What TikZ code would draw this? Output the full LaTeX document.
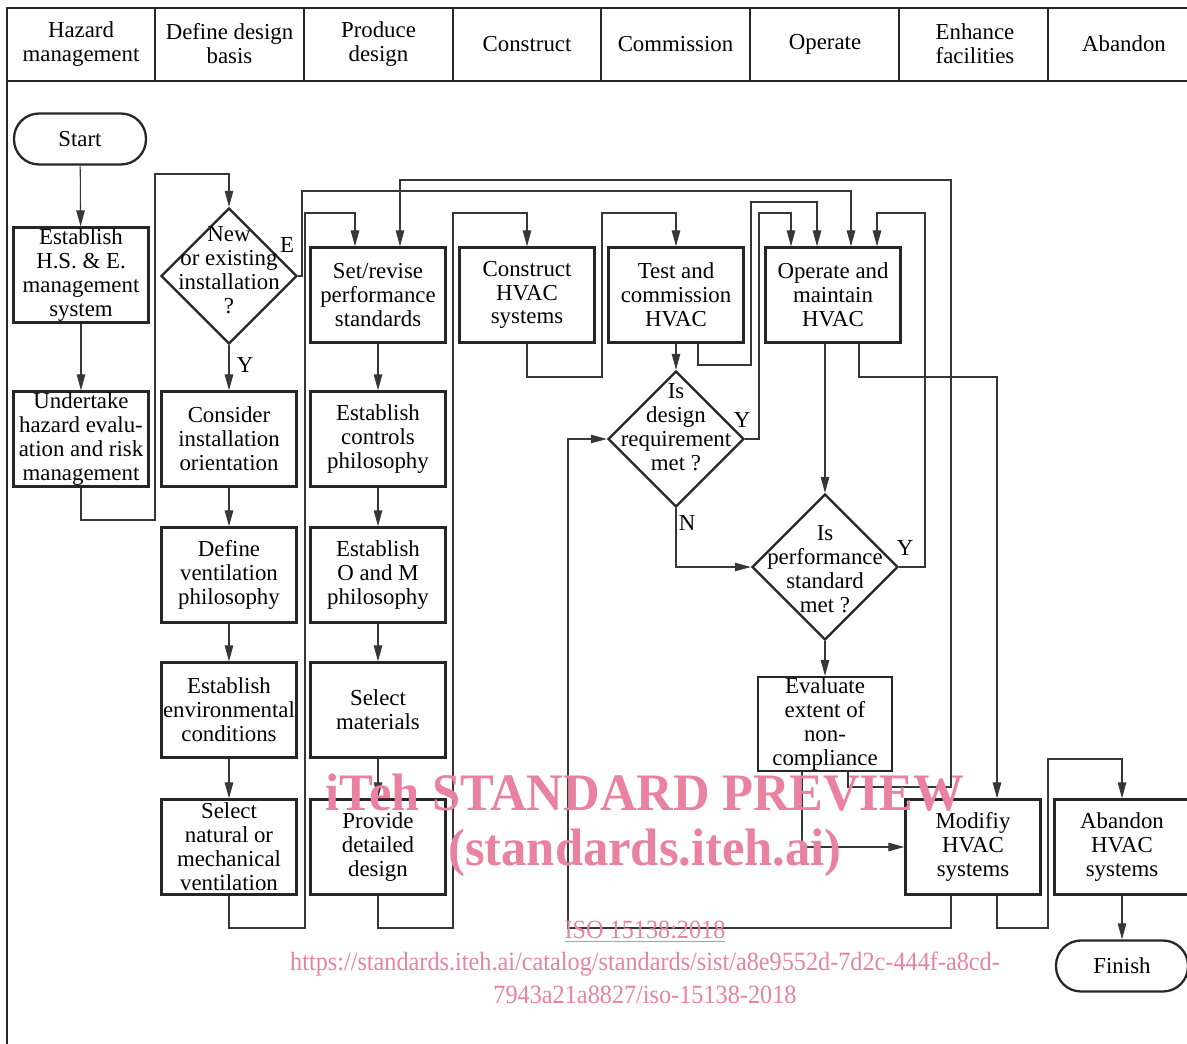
\documentclass[tikz,border=0pt]{standalone}
\usepackage{fontspec}
\setmainfont{Liberation Serif}
\usetikzlibrary{shapes.geometric, arrows.meta}
\newfontfamily\wmfont{Liberation Serif}
\definecolor{wmpink}{RGB}{232,130,160}
\definecolor{wirec}{RGB}{55,55,55}

\begin{document}
\begin{tikzpicture}[
    x=0.02cm, y=-0.02cm,
    font=\fontsize{13}{13.6}\selectfont,
    frame/.style={draw=black!85, line width=1.1pt},
    box/.style={draw=black!85, line width=1.3pt, minimum width=2.7cm, minimum height=1.9cm, inner sep=0pt, align=center},
    pill/.style={draw=black!85, line width=1.3pt, rounded corners=0.5cm, minimum width=2.64cm, minimum height=1.02cm, inner sep=0pt},
    dia/.style={draw=black!85, diamond, line width=1.3pt, minimum width=2.72cm, minimum height=2.72cm, inner sep=0pt},
    dtext/.style={align=center, inner sep=0pt},
    head/.style={align=center, inner sep=0pt},
    yn/.style={inner sep=0pt},
    wire/.style={draw=wirec, line width=0.6pt},
    link/.style={wire, -{Triangle[length=0.32cm, width=0.17cm]}},
    wmark/.style={text=wmpink, inner sep=0pt, font=\wmfont}
]
  \useasboundingbox (0,0) rectangle (1187,1044);
  % --- phase header and frame ------------------------------------------
  \draw[frame] (1200,8) -- (7,8) -- (7,1050);
  \draw[frame] (7,81) -- (1200,81);
  \foreach \x in {155,304,453,601,750,899,1048} { \draw[frame] (\x,8) -- (\x,81); }
  \foreach \cx/\nm/\txt in {81/haz/{Hazard\\management}, 229.5/dbasis/{Define design\\basis},
      378.5/pdes/{Produce\\design}, 527/cons/Construct, 675.5/comm/Commission,
      825/oper/Operate, 975/enh/{Enhance\\facilities}, 1124/aband/Abandon}
    \node[head] (h-\nm) at (\cx,44) {\txt};

  % --- hazard management ------------------------------------------------
  \node[pill] (start) at (80,139) {Start};
  \node[box] (hse) at (81,275) {Establish\\H.S. \& E.\\management\\system};
  \node[box] (hazev) at (81,439) {Undertake\\hazard evalu-\\ation and risk\\management};

  % --- design basis -----------------------------------------------------
  \node[dia] (newq) at (229,276) {};
  \node[dtext] (newq-t) at (229,270) {New\\or existing\\installation\\?};
  \node[box] (orient) at (229,439) {Consider\\installation\\orientation};
  \node[box] (ventdef) at (229,575) {Define\\ventilation\\philosophy};
  \node[box] (envcond) at (229,710) {Establish\\environmental\\conditions};
  \node[box] (natmech) at (229,847) {Select\\natural or\\mechanical\\ventilation};

  % --- design -----------------------------------------------------------
  \node[box] (perfstd) at (378,295) {Set/revise\\performance\\standards};
  \node[box] (ctrlphil) at (378,439) {Establish\\controls\\philosophy};
  \node[box] (omphil) at (378,575) {Establish\\O and M\\philosophy};
  \node[box] (selmat) at (378,710) {Select\\materials};
  \node[box] (detdes) at (378,847) {Provide\\detailed\\design};

  % --- construct, commission, operate -----------------------------------
  \node[box] (conhvac) at (527,295) {Construct\\HVAC\\systems};
  \node[box] (testc) at (676,295) {Test and\\commission\\HVAC};
  \node[box] (opm) at (833,295) {Operate and\\maintain\\HVAC};
  \node[dia] (designq) at (676,439) {};
  \node[dtext] (designq-t) at (676,427) {Is\\design\\requirement\\met ?};
  \node[dia, minimum width=2.92cm, minimum height=2.92cm] (perfq) at (825,567) {};
  \node[dtext] (perfq-t) at (825,569) {Is\\performance\\standard\\met ?};
  \node[box, minimum width=2.68cm, minimum height=1.88cm] (evalnc) at (825,724) {Evaluate\\extent of\\non-\\compliance};

  % --- enhance and abandon ----------------------------------------------
  \node[box] (modhvac) at (973,847) {Modifiy\\HVAC\\systems};
  \node[box] (abhvac) at (1122,847) {Abandon\\HVAC\\systems};
  \node[pill] (finish) at (1122,966) {Finish};

  % --- decision labels --------------------------------------------------
  \node[yn] (lab-e) at (287,245) {E};
  \node[yn] (lab-y1) at (245,365) {Y};
  \node[yn] (lab-y2) at (742,420) {Y};
  \node[yn] (lab-n) at (687,523) {N};
  \node[yn] (lab-y3) at (905,548) {Y};

  % --- connectors -------------------------------------------------------
  \draw[link] (start) -- (hse);
  \draw[link] (hse) -- (hazev);
  \draw[link] (hazev.south) |- (155,520) |- (229,174) -- (newq.north);
  \draw[link] (newq.south) -- (orient);
  \draw[link] (orient) -- (ventdef);
  \draw[link] (ventdef) -- (envcond);
  \draw[link] (envcond) -- (natmech);
  \draw[link] (natmech.south) |- (305,928) |- (355,213) -- (355,0 |- perfstd.north);
  \draw[link] (newq.east) -- (302,276) |- (851,191) -- (851,0 |- opm.north);
  \draw[link] (perfstd) -- (ctrlphil);
  \draw[link] (ctrlphil) -- (omphil);
  \draw[link] (omphil) -- (selmat);
  \draw[link] (selmat) -- (detdes);
  \draw[link] (detdes.south) |- (453,928) |- (527,213) -- (conhvac.north);
  \draw[link] (conhvac.south) |- (602,377) |- (676,213) -- (testc.north);
  \draw[link] (testc) -- (designq);
  \draw[link] (698,0 |- testc.south) |- (751,365) |- (817,202) -- (817,0 |- opm.north);
  \draw[link] (designq.east) -- (759,439) |- (791,213) -- (791,0 |- opm.north);
  \draw[link] (designq.south) |- (perfq.west);
  \draw[link] (perfq.east) -- (925,567) |- (877,213) -- (877,0 |- opm.north);
  \draw[link] (opm.south -| perfq.north) -- (perfq.north);
  \draw[link] (perfq) -- (evalnc);
  \draw[link] (859,0 |- opm.south) |- (997,377) -- (997,0 |- modhvac.north);
  \draw[link] (848,0 |- evalnc.south) |- (951,787) |- (400,180) -- (400,0 |- perfstd.north);
  \draw[link] (802,0 |- evalnc.south) |- (modhvac.west);
  \draw[link] (951,0 |- modhvac.south) |- (568,928) |- (designq.west);
  \draw[link] (997,0 |- modhvac.south) |- (1048,928) |- (1122,759) -- (abhvac.north);
  \draw[link] (abhvac) -- (finish);

  % --- preview stamp ----------------------------------------------------
  \node[wmark] (wm-a) at (645,793) {\fontsize{30}{30}\selectfont\bfseries\scalebox{0.96}[1]{iTeh STANDARD PREVIEW}};
  \node[wmark] (wm-b) at (645,853) {\fontsize{30}{30}\selectfont\bfseries\scalebox{0.96}[1]{(standards.iteh.ai)}};
  \node[wmark] (wm-c) at (645,932) {\fontsize{15}{15}\selectfont\scalebox{0.92}[1]{\underline{ISO 15138:2018}}};
  \node[wmark] (wm-d) at (645,964) {\fontsize{15}{15}\selectfont\scalebox{0.92}[1]{https://standards.iteh.ai/catalog/standards/sist/a8e9552d-7d2c-444f-a8cd-}};
  \node[wmark] (wm-e) at (645,995) {\fontsize{15}{15}\selectfont\scalebox{0.92}[1]{7943a21a8827/iso-15138-2018}};
\end{tikzpicture}
\end{document}
